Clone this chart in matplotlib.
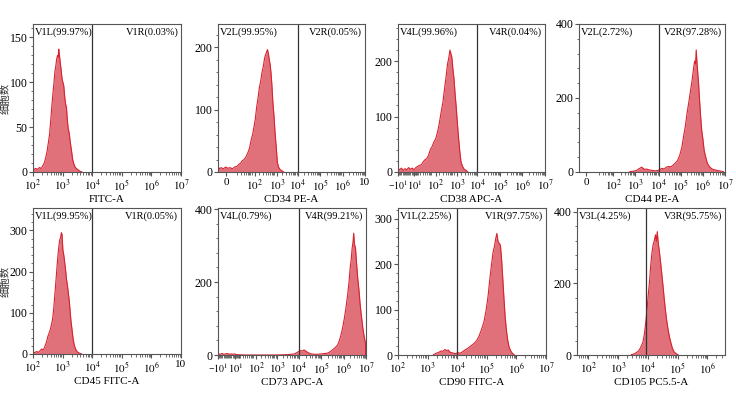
import matplotlib
matplotlib.use("Agg")
import matplotlib.pyplot as plt
import numpy as np
from matplotlib.ticker import AutoMinorLocator

plt.rcParams['font.family'] = ['Liberation Serif', 'DejaVu Sans']
plt.rcParams['mathtext.fontset'] = 'stix'

# histogram outlines (x in decade units of each panel's axis, y = cell count)
fitc_x = [2.00, 2.005, 2.02, 2.08, 2.15, 2.22, 2.28, 2.33, 2.38, 2.43, 2.48, 2.52, 2.56, 2.60, 2.64,
          2.68, 2.71, 2.74, 2.77, 2.80, 2.83, 2.85, 2.87, 2.89, 2.92, 2.95, 2.98, 3.01, 3.04, 3.07,
          3.10, 3.13, 3.16, 3.19, 3.22, 3.26, 3.30, 3.34, 3.38, 3.43, 3.50, 3.58, 3.65]
fitc_y = [17, 3, 2, 4, 3, 5, 4, 7, 10, 16, 24, 33, 42, 58, 75,
          90, 100, 112, 118, 126, 130, 128, 137, 131, 122, 114, 104, 100, 96, 84,
          76, 72, 58, 48, 44, 33, 24, 14, 9, 5, 3, 1, 0]

cd34_x = [0.47, 0.48, 0.52, 0.60, 0.70, 0.80, 0.90, 1.00, 1.10, 1.20, 1.30, 1.38, 1.46, 1.54, 1.62,
          1.70, 1.78, 1.86, 1.94, 2.00, 2.06, 2.12, 2.18, 2.24, 2.30, 2.36, 2.42, 2.48, 2.53, 2.58,
          2.62, 2.66, 2.70, 2.74, 2.78, 2.82, 2.86, 2.90, 2.95, 3.00, 3.05, 3.10, 3.15, 3.22, 3.30, 3.38]
cd34_y = [116, 8, 5, 7, 5, 8, 6, 7, 5, 8, 9, 12, 14, 18, 20,
          24, 30, 38, 52, 60, 72, 85, 104, 118, 135, 146, 160, 170, 182, 188,
          192, 196, 190, 180, 172, 158, 138, 112, 90, 62, 40, 16, 8, 4, 2, 0]

cd38_x = [0.50, 0.51, 0.56, 0.64, 0.72, 0.80, 0.88, 0.96, 1.04, 1.12, 1.20, 1.28, 1.36, 1.44, 1.52,
          1.60, 1.68, 1.76, 1.84, 1.92, 2.00, 2.08, 2.16, 2.24, 2.32, 2.40, 2.48, 2.55, 2.62, 2.68,
          2.74, 2.79, 2.83, 2.87, 2.92, 2.97, 3.02, 3.07, 3.12, 3.17, 3.22, 3.28, 3.35, 3.42, 3.50, 3.58]
cd38_y = [127, 6, 4, 7, 3, 6, 4, 8, 5, 7, 4, 8, 10, 12, 13,
          18, 22, 24, 30, 40, 46, 54, 60, 72, 88, 108, 126, 150, 172, 194,
          206, 220, 214, 208, 186, 168, 140, 116, 88, 62, 40, 18, 10, 5, 3, 0]

cd44_x = [2.70, 2.85, 3.00, 3.10, 3.18, 3.24, 3.30, 3.38, 3.46, 3.55, 3.65, 3.75, 3.85, 3.95, 4.05,
          4.15, 4.25, 4.35, 4.45, 4.55, 4.65, 4.75, 4.85, 4.95, 5.05, 5.13, 5.21, 5.29, 5.37, 5.45,
          5.52, 5.58, 5.63, 5.67, 5.70, 5.73, 5.77, 5.81, 5.85, 5.90, 5.95, 6.00, 6.06, 6.13, 6.20,
          6.30, 6.42, 6.58, 6.75, 6.92]
cd44_y = [1, 2, 4, 8, 11, 13, 10, 7, 8, 6, 5, 4, 3, 4, 6,
          10, 8, 13, 15, 14, 18, 24, 30, 44, 66, 96, 124, 160, 190, 222,
          250, 280, 300, 292, 330, 300, 268, 236, 196, 150, 112, 90, 58, 40, 24,
          14, 8, 5, 3, 1]

cd45_x = [2.00, 2.01, 2.05, 2.12, 2.18, 2.24, 2.29, 2.34, 2.38, 2.42, 2.46, 2.50, 2.54, 2.58, 2.62,
          2.66, 2.70, 2.74, 2.78, 2.82, 2.86, 2.90, 2.93, 2.96, 2.98, 3.01, 3.04, 3.07, 3.10, 3.13,
          3.16, 3.19, 3.22, 3.25, 3.28, 3.32, 3.36, 3.40, 3.45, 3.50, 3.57, 3.64]
cd45_y = [47, 5, 3, 6, 4, 8, 12, 10, 14, 22, 30, 42, 50, 58, 70,
          84, 110, 146, 182, 220, 252, 276, 282, 294, 290, 252, 240, 222, 204, 182,
          168, 150, 132, 108, 82, 58, 34, 20, 10, 5, 2, 0]

cd73_x = [0.40, 0.48, 0.56, 0.64, 0.72, 0.80, 0.88, 0.96, 1.04, 1.12, 1.20, 1.60, 2.00, 2.50, 3.00,
          3.50, 3.80, 3.95, 4.05, 4.15, 4.23, 4.32, 4.42, 4.55, 4.70, 4.85, 5.00, 5.15, 5.28, 5.40,
          5.50, 5.62, 5.73, 5.81, 5.88, 5.96, 6.03, 6.10, 6.18, 6.24, 6.29, 6.34, 6.38, 6.42, 6.45,
          6.48, 6.53, 6.58, 6.63, 6.69, 6.74, 6.80, 6.86, 6.92, 6.98]
cd73_y = [3, 2, 4, 2, 3, 4, 2, 3, 2, 3, 1, 0, 0, 0, 0,
          1, 3, 8, 12, 11, 14, 10, 6, 3, 2, 2, 3, 4, 5, 9,
          14, 20, 27, 40, 55, 76, 100, 128, 165, 200, 238, 262, 293, 310, 334,
          305, 293, 250, 210, 175, 137, 104, 73, 50, 32]

cd90_x = [3.20, 3.30, 3.38, 3.46, 3.52, 3.58, 3.64, 3.70, 3.76, 3.82, 3.88, 3.95, 4.02, 4.10, 4.18,
          4.26, 4.34, 4.42, 4.50, 4.58, 4.66, 4.74, 4.82, 4.90, 4.97, 5.04, 5.10, 5.16, 5.21, 5.26,
          5.30, 5.34, 5.38, 5.42, 5.46, 5.50, 5.54, 5.58, 5.62, 5.66, 5.70, 5.75, 5.80, 5.86, 5.93]
cd90_y = [1, 4, 6, 9, 8, 12, 10, 11, 6, 5, 4, 3, 5, 4, 7,
          11, 14, 18, 22, 26, 32, 42, 56, 72, 96, 128, 166, 200, 226, 240,
          256, 268, 250, 246, 242, 210, 168, 124, 84, 56, 35, 18, 10, 4, 0]

cd105_x = [3.45, 3.55, 3.62, 3.68, 3.73, 3.78, 3.84, 3.89, 3.94, 3.98, 4.02, 4.06, 4.10, 4.14, 4.18,
           4.22, 4.26, 4.29, 4.32, 4.35, 4.39, 4.43, 4.47, 4.51, 4.55, 4.59, 4.63, 4.68, 4.73, 4.78,
           4.83, 4.88, 4.95, 5.02]
cd105_y = [1, 3, 7, 10, 16, 24, 36, 60, 95, 130, 170, 205, 250, 285, 308,
           320, 336, 318, 345, 315, 290, 260, 228, 195, 160, 128, 100, 72, 50, 33,
           18, 9, 4, 0]

x_titles = ['FITC-A', 'CD34 PE-A', 'CD38 APC-A', 'CD44 PE-A',
            'CD45 FITC-A', 'CD73 APC-A', 'CD90 FITC-A', 'CD105 PC5.5-A']
left_gates = ['V1L(99.97%)', 'V2L(99.95%)', 'V4L(99.96%)', 'V2L(2.72%)',
              'V1L(99.95%)', 'V4L(0.79%)', 'V1L(2.25%)', 'V3L(4.25%)']
right_gates = ['V1R(0.03%)', 'V2R(0.05%)', 'V4R(0.04%)', 'V2R(97.28%)',
               'V1R(0.05%)', 'V4R(99.21%)', 'V1R(97.75%)', 'V3R(95.75%)']
gate_pos = [4, 4, 4, 4, 4, 4, 4, 3.93]

log_labels = ['$10^{2}$', '$10^{3}$', '$10^{4}$', '$10^{5}$', '$10^{6}$', '$10^{7}$']
biexp_labels = ['\u2212$10^{1}$', '$10^{1}$'] + log_labels
xtick_pos = [
    [2, 3, 4, 5, 6, 7],
    [0.82, 2.1, 3.1, 4, 5, 6, 7],
    [0.49, 1.22, 2.17, 3.1, 4, 5, 6, 7],
    [0.73, 1.95, 2.95, 4, 5, 6, 7],
    [2, 3, 4, 5, 6, 7],
    [0.38, 1.15, 2.1, 3.03, 4, 5, 6, 7],
    [2, 3, 4, 5, 6, 7],
    [2, 3, 4, 5, 6],
]
xtick_lab = [
    log_labels,
    ['0'] + log_labels[:-1] + ['10'],
    biexp_labels,
    ['0'] + log_labels,
    log_labels[:-1] + ['10'],
    biexp_labels,
    log_labels,
    log_labels[:-1],
]
xlims = [(2, 7), (0.46, 7), (0.49, 7), (0.41, 7), (2, 7), (0.38, 7), (2, 7), (1.63, 6.59)]
ylims = [165, 237, 267, 400, 354, 403, 324, 411]
ytick_step = [50, 100, 100, 200, 100, 200, 100, 200]

xs = [fitc_x, cd34_x, cd38_x, cd44_x, cd45_x, cd73_x, cd90_x, cd105_x]
ys = [fitc_y, cd34_y, cd38_y, cd44_y, cd45_y, cd73_y, cd90_y, cd105_y]

# axes boxes in pixels: left, top, right, bottom
boxes = [(33, 24, 181, 172), (218, 24, 365, 172), (398, 24, 545, 172), (579, 24, 725, 172),
         (33, 208, 181, 354), (218, 208, 366, 355), (398, 208, 546, 355), (577, 208, 725, 355)]
dense_left = [False, False, True, False, False, True, False, False]

W, H = 736, 397
fig = plt.figure(figsize=(W / 100, H / 100), dpi=100)
edge = '#555555'

for i in range(8):
    l, t, r, b = boxes[i]
    ax = fig.add_axes([l / W, 1 - b / H, (r - l) / W, (b - t) / H])
    x = np.array(xs[i])
    y = np.array(ys[i])
    ax.fill_between(x, 0, y, color='#e0707a', lw=0)
    ax.plot(np.r_[x[0], x, x[-1]], np.r_[0, y, 0], color='#d8222e', lw=0.8)
    ax.axvline(gate_pos[i], color='#333333', lw=0.9)

    ax.set_xlim(*xlims[i])
    ax.set_ylim(0, ylims[i])
    ax.set_xticks(xtick_pos[i])
    ax.set_xticklabels(xtick_lab[i])
    minors = [d + np.log10(k) for d in range(1, 7) for k in range(2, 10)]
    if dense_left[i]:
        minors += list(np.arange(xlims[i][0], 1.4, 0.05))
    minors = [m for m in minors if xlims[i][0] <= m <= xlims[i][1]]
    ax.set_xticks(minors, minor=True)
    ax.set_yticks(np.arange(0, ylims[i] + 1, ytick_step[i]))
    ax.yaxis.set_minor_locator(AutoMinorLocator(5))

    ax.tick_params(axis='both', which='major', length=3, width=0.8, color=edge, pad=1.5)
    ax.tick_params(axis='both', which='minor', length=1.8, width=0.6, color=edge)
    ax.tick_params(axis='x', labelsize=8)
    ax.tick_params(axis='y', labelsize=8.5, pad=1)
    if dense_left[i]:
        ax.get_xticklabels()[0].set_fontsize(7)
        ax.get_xticklabels()[1].set_fontsize(7.5)
    for s in ax.spines.values():
        s.set_color(edge)
        s.set_linewidth(0.8)

    ax.set_xlabel(x_titles[i], fontsize=8, labelpad=1)
    ax.text(0.014, 0.98, left_gates[i], transform=ax.transAxes, ha='left', va='top', fontsize=7.5)
    ax.text(0.982, 0.98, right_gates[i], transform=ax.transAxes, ha='right', va='top', fontsize=7.5)

    if i in (0, 4):
        fig.text(5.5 / W, 1 - (t + b) / 2 / H, '细胞数', rotation=90, ha='center', va='center',
                 fontsize=7.5, family=['Noto Sans CJK SC', 'DejaVu Sans'], color='#333333')

fig.savefig('out.png', dpi=100)
